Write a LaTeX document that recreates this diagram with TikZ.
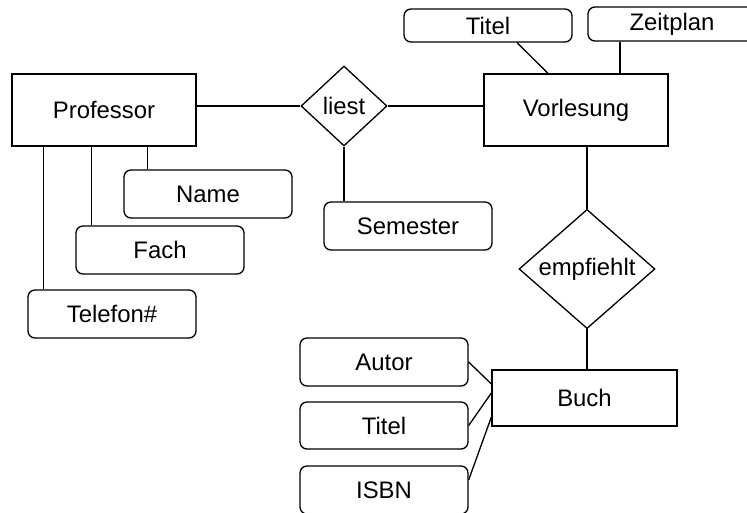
\documentclass[tikz,border=0pt]{standalone}
\usepackage{fontspec}
\setmainfont{Liberation Sans}
\usetikzlibrary{shapes.geometric,positioning,calc}

\begin{document}
\begin{tikzpicture}[x=0.02cm,y=-0.02cm,line width=0.75pt,
    every node/.style={font=\fontsize{13.6}{16}\selectfont},
    entity/.style={draw,rectangle,minimum width=3.68cm,minimum height=1.44cm},
    attr/.style={draw,rectangle,rounded corners=0.14cm,minimum width=3.36cm,minimum height=0.96cm},
    rel/.style={draw,diamond,inner sep=0pt}
    ]
    \clip (0,0) rectangle (747,513);

    % the entities
    \node[entity] (prof) at (104,110) {Professor};
    \node[entity] (vorl) at (576,110) {Vorlesung};
    \node[entity,minimum width=3.7cm,minimum height=1.12cm] (buch) at (584.5,398) {Buch};

    % the relations
    \node[rel,minimum width=1.72cm,minimum height=1.6cm] (liest) at (344,106) {liest};
    \node[rel,minimum width=2.72cm,minimum height=2.36cm] (empf) at (587,269) {empfiehlt};

    % the attributes
    \node[attr] (name) at (208,194) {Name};
    \node[attr] (fach) at (160,250) {Fach};
    \node[attr] (tel) at (112,314) {Telefon\#};
    \node[attr] (sem) at (408,226) {Semester};
    \node[attr,minimum height=0.66cm] (vtitel) at (488,25.5) {Titel};
    \node[attr,minimum height=0.64cm] (zeit) at (672,24) {Zeitplan};
    \node[attr] (autor) at (384,362) {Autor};
    \node[attr,minimum height=0.94cm] (btitel) at (384,425.5) {Titel};
    \node[attr] (isbn) at (384,490) {ISBN};

    % the edges
    \draw (liest.west) -- (liest.west -| prof.east);
    \draw (liest.east) -- (liest.east -| vorl.west);
    \draw (liest.south) -- (liest.south |- sem.north);
    \draw (empf.north) -- (empf.north |- vorl.south);
    \draw (empf.south) -- (empf.south |- buch.north);

    % professor attributes
    \draw ([xshift=0.48cm]name.north west) -- ([xshift=0.48cm]name.north west |- prof.south);
    \draw ([xshift=0.32cm]fach.north west) -- ([xshift=0.32cm]fach.north west |- prof.south);
    \draw ([xshift=0.32cm]tel.north west) -- ([xshift=0.32cm]tel.north west |- prof.south);

    % vorlesung attributes
    \draw ([xshift=0.58cm]vtitel.south) -- ([xshift=-0.56cm]vorl.north);
    \draw ([xshift=0.88cm]vorl.north) -- ([xshift=0.88cm]vorl.north |- zeit.south);

    % buch attributes
    \draw (autor.east) -- ([yshift=0.28cm]buch.west);
    \draw (btitel.east) -- ([yshift=0.1cm]buch.west);
    \draw ([yshift=0.2cm]isbn.east) -- ([yshift=-0.38cm]buch.west);
\end{tikzpicture}
\end{document}
